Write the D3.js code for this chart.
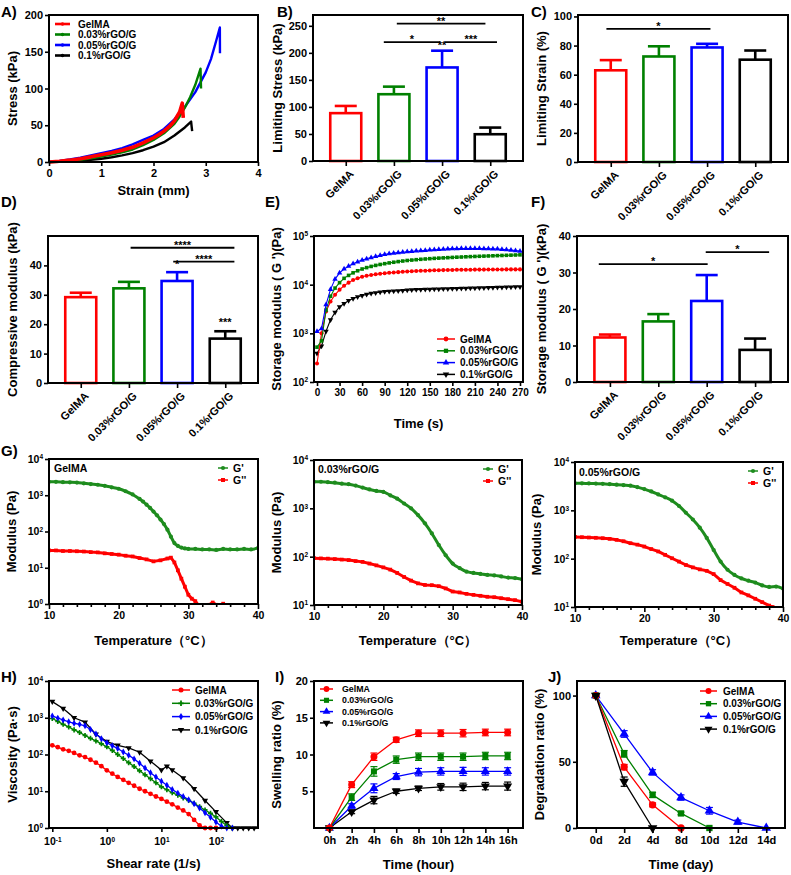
<!DOCTYPE html>
<html><head><meta charset="utf-8">
<script src="https://cdn.jsdelivr.net/npm/d3@7"></script>
<style>body{margin:0;background:#fff}</style>
</head><body>
<script>
// ---------------- DATA ----------------
const groups = ["GelMA","0.03%rGO/G","0.05%rGO/G","0.1%rGO/G"];
const groupColors = ["#ff0000","#008000","#0000ff","#000000"];

// A) stress-strain
const strainGel = [0,0.2,0.4,0.6,0.8,1.0,1.2,1.4,1.6,1.8,2.0,2.1,2.2,2.3,2.4,2.5,2.55,2.56,2.57];
const stressGel = [0,1,2.5,4.5,7,10,12.5,16,20,26,33,37,42,48,56,68,80,70,60];
const strainG03 = [0,0.2,0.4,0.6,0.8,1.0,1.2,1.4,1.6,1.8,2.0,2.2,2.4,2.5,2.6,2.7,2.8,2.9,2.905,2.91];
const stressG03 = [0,0.5,1.5,3,5,7.5,10,13,17,23,30,39,52,62,74,88,105,127,113,100];
const strainG05 = [0,0.2,0.4,0.6,0.8,1.0,1.2,1.4,1.6,1.8,2.0,2.2,2.4,2.6,2.8,3.0,3.1,3.2,3.27,3.271,3.272];
const stressG05 = [0,1.5,3.5,6,9,12,15,19,24,30,36,45,58,75,95,122,140,165,183,165,148];
const strainG01 = [0,0.2,0.4,0.6,0.8,1.0,1.2,1.4,1.6,1.8,2.0,2.2,2.4,2.6,2.72,2.73,2.74];
const stressG01 = [0,0.3,1,2,3,4.5,6.5,9,12,16,21,27,36,47,55,48,42];

// B) C) D) F) bar values
const limStress = [88.5,123.5,173,49.5];
const limStressErr = [13.3,14,31,12.3];
const limStrain = [63,72.5,78.7,70.3];
const limStrainErr = [7,7,2.5,6.3];
const compMod = [29.2,32.2,34.7,15.1];
const compModErr = [1.5,2.2,3,2.5];
const storMod = [12.2,16.6,22.2,8.8];
const storModErr = [0.8,2,7.1,3.1];

// E) time sweep
const timeE = [0,6,12,18,24,30,36,42,48,54,60,66,72,78,84,90,96,102,108,114,120,126,132,138,144,150,156,162,168,174,180,186,192,198,204,210,216,222,228,234,240,246,252,258,264,270];
const gtGel = [240,1000,2800,4500,6200,7900,9500,11000,12500,13500,14500,15200,15800,16300,16800,17200,17500,17800,18100,18400,18700,18900,19100,19300,19400,19600,19700,19800,19900,20000,20100,20200,20200,20300,20300,20400,20400,20400,20500,20500,20500,20500,20600,20600,20600,20600];
const gtG03 = [520,700,3000,5800,8500,11000,13500,15500,17500,19300,21000,22400,23700,24900,26000,27000,28000,28900,29800,30600,31400,32000,32600,33200,33700,34200,34700,35100,35500,35900,36300,36700,37000,37400,37700,38000,38300,38600,38900,39200,39500,39800,40100,40400,40700,41000];
const gtG05 = [1100,1250,3900,8000,13000,17500,21000,24000,27000,29500,32000,34000,36000,38000,40000,42000,43200,44400,45500,46500,47500,48300,49100,49900,50700,51500,52200,52900,53600,54300,55000,55200,55400,55500,55500,55500,55300,55100,54800,54400,54000,53200,52300,51300,50200,49000];
const gtG01 = [390,550,1100,1900,2700,3500,4100,4700,5200,5600,6000,6300,6600,6800,7000,7200,7300,7400,7500,7600,7700,7800,7900,7950,8000,8050,8100,8150,8200,8250,8300,8350,8400,8450,8500,8550,8600,8650,8700,8750,8800,8850,8900,8950,9000,9050];

// G) temperature sweeps
const tempG = [10,11,12,13,14,15,16,17,18,19,20,21,22,23,24,25,26,27,28,29,30,31,32,33,34,35,36,37,38,39,40];
const tempG1p = [10,11,12,13,14,15,16,17,18,19,20,21,22,23,23.5,24,24.5,25,25.5,26,26.5,27,27.5,28,28.5,29,29.5,30,31,32,33,34,35,36,37,38,39,40];
const g1Storage = [2340,2340,2300,2280,2240,2140,2040,1950,1820,1660,1510,1290,1050,790,670,550,450,355,280,214,160,112,72,48,40,36,34,33,33,32,32,31,33,32,32,33,32,35];
const tempG1pp = [10,11,12,13,14,15,16,17,18,19,20,21,22,23,24,25,26,27,27.5,28,28.5,29,29.5,30,30.5,31,31.5,32,32.5,33,33.5,34,34.5,35,35.5];
const g1Loss = [30,30,29,29,28.5,28,27,26.5,25,24,23,21.5,20.5,18.5,17,15,16,18,19,14,8.5,5,3,1.8,1.4,1.2,0.9,0.7,0.8,0.95,1.1,0.95,0.9,1.02,0.8];
const g2Storage = [3548,3548,3467,3388,3236,3162,2951,2692,2455,2291,2188,1862,1585,1259,1000,724,490,302,174,107,72,58,49,46,44,42,41,39,37,36,34];
const g2Loss = [93,92,91,89,87,85,81,78,72,66,60,54,46,38,32,28,26,25.7,24.5,22,19,18.2,17,16.2,15.5,14.8,14.5,13.8,13.2,12.6,11.7];
const g3Storage = [3631,3620,3600,3570,3530,3467,3400,3320,3236,3020,2754,2455,2138,1862,1585,1230,891,646,437,269,151,87,59,46,39,35,32,28,26,26.5,24];
const tempG3pp = [10,11,12,13,14,15,16,17,18,19,20,21,22,23,24,25,26,27,28,29,30,31,32,33,34,35,36,37,38,38.5];
const g3Loss = [282,278,274,270,265,257,245,229,209,195,178,158,141,120,102,87,74,66,60,56,48,36,30,25,20,17.4,14.8,12.6,10.7,10.0];

// H) viscosity
const shearH = [0.1,0.126,0.158,0.2,0.251,0.316,0.398,0.501,0.631,0.794,1,1.26,1.58,2,2.51,3.16,3.98,5.01,6.31,7.94,10,12.6,15.8,20,25.1,31.6,39.8,50.1,63.1,79.4,100,126,158,200];
const viscGel = [178,158,138,126,110,95,85,72,60,48,37,30,24.5,20.4,17,14.1,11.7,10,8.5,7.2,6.2,5.2,4.4,3.6,3.0,2.4,1.66,1.17,1,1,1];
const viscG03 = [955,794,661,562,468,398,331,275,234,195,162,129,100,78,60,47,36,28,22,17,13.2,11,9.1,7.8,6.6,5.6,4.7,3.8,3.1,2.5,2.0,1.5,1.15,1];
const viscG05 = [1120,977,871,776,708,661,603,479,363,269,209,174,145,117,95,76,58,43,32,24.5,18.6,14.5,11.2,8.9,7.2,5.9,4.6,3.5,2.6,1.95,1.45,1.12,1,1];
const shearH01 = [0.1,0.158,0.251,0.398,0.631,1,1.58,2.51,3.98,6.31,10,12.6,15.8,25.1,39.8,63.1,100,158,200,251,316,398,501];
const viscG01 = [2750,1780,1000,760,355,224,178,151,115,66,38,48,38,23,11.7,5.6,2.75,1.38,1,1,1,1,1];

// I) swelling
const timeI = ["0h","2h","4h","6h","8h","10h","12h","14h","16h"];
const swGel = [0,5.9,9.7,12.0,12.9,12.9,12.9,13.0,13.0];
const swGelErr = [0.2,0.4,0.5,0.35,0.45,0.45,0.5,0.45,0.45];
const swG03 = [0,4.2,7.7,9.3,9.7,9.7,9.7,9.8,9.8];
const swG03Err = [0.2,0.45,0.65,0.5,0.5,0.5,0.5,0.5,0.5];
const swG05 = [0,3.0,5.4,7.0,7.6,7.7,7.7,7.7,7.7];
const swG05Err = [0.2,0.3,0.6,0.4,0.5,0.5,0.55,0.5,0.5];
const swG01 = [0,2.2,3.8,5.0,5.4,5.6,5.6,5.7,5.7];
const swG01Err = [0.1,0.25,0.5,0.3,0.3,0.45,0.5,0.5,0.55];

// J) degradation
const dayJ = ["0d","2d","4d","8d","10d","12d","14d"];
const degGel = [100,46,17.5,0];
const degGelErr = [0.5,2,1.5,0];
const degG03 = [100,56,25,11,0];
const degG03Err = [0.5,2.5,2,1,0];
const degG05 = [100,71,42,23,13,4.5,0];
const degG05Err = [0.5,2.5,2,2,2.5,1.5,0];
const degG01 = [100,35,0];
const degG01Err = [0.5,3.5,0];

// ---------------- DRAWING ----------------
const FONT = "Arial, 'Liberation Sans', Helvetica, sans-serif";
const GREEN2 = "#1e8c1e";
const svg = d3.select("body").append("svg").attr("width",791).attr("height",875)
  .attr("font-family",FONT).attr("font-weight","bold");

const R = {
 A:{x0:49,x1:258,y0:15,y1:162},
 B:{x0:313,x1:523,y0:15,y1:161},
 C:{x0:578,x1:788,y0:15,y1:162},
 D:{x0:48,x1:258,y0:236,y1:383},
 E:{x0:314,x1:523,y0:236,y1:382},
 F:{x0:577,x1:788,y0:236,y1:382},
 G1:{x0:49,x1:258,y0:459,y1:604},
 G2:{x0:314,x1:522,y0:460,y1:605},
 G3:{x0:575,x1:783,y0:462,y1:607},
 H:{x0:49,x1:258,y0:681,y1:828},
 I:{x0:314,x1:523,y0:681,y1:828},
 J:{x0:577,x1:785,y0:681,y1:828}
};

let clipN = 0;
function clipFor(r){
  const id = "clip"+(clipN++);
  svg.append("clipPath").attr("id",id).append("rect")
    .attr("x",r.x0).attr("y",r.y0).attr("width",r.x1-r.x0).attr("height",r.y1-r.y0);
  return "url(#"+id+")";
}
function frame(r){
  svg.append("rect").attr("x",r.x0).attr("y",r.y0).attr("width",r.x1-r.x0).attr("height",r.y1-r.y0)
    .attr("fill","none").attr("stroke","#000").attr("stroke-width",2);
}
function styleAxis(g, fs){
  g.attr("font-family",FONT).attr("font-size",fs).attr("font-weight","bold");
  g.select(".domain").remove();
  g.selectAll(".tick line").attr("stroke","#000").attr("stroke-width",1.6);
  g.selectAll(".tick text").attr("fill","#000");
}
function powLabels(g){
  g.selectAll(".tick text").each(function(d){
    const e = Math.round(Math.log10(d));
    const t = d3.select(this); t.text("");
    t.append("tspan").text("10");
    t.append("tspan").attr("dy","-0.55em").attr("font-size","0.62em").text(e);
  });
}
function leftAxis(r, y, o){
  const a = d3.axisLeft(y).tickSizeOuter(0).tickSize(o.size||4).tickPadding(o.pad||2);
  if (o.values) a.tickValues(o.values);
  if (o.format) a.tickFormat(o.format);
  const g = svg.append("g").attr("transform",`translate(${r.x0},0)`).call(a);
  styleAxis(g, o.fs||11);
  if (o.pow) powLabels(g);
  return g;
}
function bottomAxis(r, x, o){
  const a = d3.axisBottom(x).tickSizeOuter(0).tickSize(o.size||4).tickPadding(o.pad||3);
  if (o.values) a.tickValues(o.values);
  if (o.format !== undefined) a.tickFormat(o.format);
  const g = svg.append("g").attr("transform",`translate(0,${r.y1})`).call(a);
  styleAxis(g, o.fs||11);
  if (o.pow) powLabels(g);
  return g;
}
function yTitle(text, x, r, fs){
  svg.append("text").attr("transform",`translate(${x},${(r.y0+r.y1)/2}) rotate(-90)`)
    .attr("text-anchor","middle").attr("font-size",fs||13).text(text);
}
function xTitle(text, r, y, fs){
  svg.append("text").attr("x",(r.x0+r.x1)/2).attr("y",y).attr("text-anchor","middle")
    .attr("font-size",fs||13).text(text);
}
function letter(t, x, y){
  svg.append("text").attr("x",x).attr("y",y).attr("font-size",15).text(t);
}
const SYM = {circle:d3.symbolCircle, square:d3.symbolSquare, triangle:d3.symbolTriangle,
  triangleDown:d3.symbolTriangle, cross:d3.symbolCross, diamond:d3.symbolDiamond};
function drawSym(p, x, y, type, size, color){
  p.append("path").attr("d", d3.symbol().type(SYM[type]).size(size)())
    .attr("transform", `translate(${x},${y})` + (type==="triangleDown" ? " rotate(180)" : ""))
    .attr("fill", color);
}
function plotSeries(p, xv, yv, xs, ys, color, o){
  const pts = xv.slice(0, yv.length).map((v,i)=>[xs(v), ys(yv[i])]);
  if (o.errs){
    o.errs.forEach((e,i)=>{
      if (!e) return;
      const x = pts[i][0], yt = ys(yv[i]+e), yb = ys(Math.max(yv[i]-e, 0));
      p.append("line").attr("x1",x).attr("x2",x).attr("y1",yt).attr("y2",yb).attr("stroke",color).attr("stroke-width",1.2);
      [yt,yb].forEach(yy=>p.append("line").attr("x1",x-o.cap).attr("x2",x+o.cap).attr("y1",yy).attr("y2",yy)
        .attr("stroke",color).attr("stroke-width",1.2));
    });
  }
  p.append("path").attr("d", d3.line().curve(o.curve || d3.curveLinear)(pts))
    .attr("fill","none").attr("stroke",color).attr("stroke-width",o.lw||1.5).attr("stroke-linejoin","round");
  if (o.sym) pts.forEach(pt=>drawSym(p, pt[0], pt[1], o.sym, o.size, color));
}
function legend(x0, y0, dy, len, gap, fs, items){
  items.forEach((it,i)=>{
    const y = y0 + i*dy;
    svg.append("line").attr("x1",x0).attr("x2",x0+len).attr("y1",y).attr("y2",y)
      .attr("stroke",it.color).attr("stroke-width",it.lw||1.5);
    if (it.sym) drawSym(svg, x0+len/2, y, it.sym, it.size||20, it.color);
    svg.append("text").attr("x",x0+len+gap).attr("y",y).attr("dy","0.36em").attr("font-size",fs).text(it.label);
  });
}

// ----- Bar panels -----
function barPanel(r, yMax, ticks, vals, errs, anns, title, titleX){
  const x = d3.scalePoint().domain(groups).range([r.x0, r.x1]).padding(0.68);
  const y = d3.scaleLinear().domain([0, yMax]).range([r.y1, r.y0]);
  const step = x.step();
  const bw = 31, cw = 22;
  const g = svg.append("g");
  groups.forEach((k,i)=>{
    const cx = x(k), c = groupColors[i];
    g.append("line").attr("x1",cx).attr("x2",cx).attr("y1",y(vals[i])).attr("y2",y(vals[i]+errs[i]))
      .attr("stroke",c).attr("stroke-width",2.6);
    g.append("line").attr("x1",cx-cw/2).attr("x2",cx+cw/2).attr("y1",y(vals[i]+errs[i])).attr("y2",y(vals[i]+errs[i]))
      .attr("stroke",c).attr("stroke-width",2.6);
    g.append("rect").attr("x",cx-bw/2).attr("y",y(vals[i])).attr("width",bw).attr("height",y(0)-y(vals[i]))
      .attr("fill","#fff").attr("stroke",c).attr("stroke-width",2.6);
  });
  frame(r);
  leftAxis(r, y, {values:ticks, fs:11});
  bottomAxis(r, x, {format:"", size:5});
  groups.forEach(k=>{
    svg.append("text").attr("transform",`translate(${x(k)+6},${r.y1+11}) rotate(-45)`)
      .attr("text-anchor","end").attr("dy","0.35em").attr("font-size",11).text(k);
  });
  const x0 = x(groups[0]);
  anns.forEach(a=>{
    if (a.b !== undefined){
      svg.append("line").attr("x1",x0+a.a*step).attr("x2",x0+a.b*step).attr("y1",y(a.y)).attr("y2",y(a.y))
        .attr("stroke","#000").attr("stroke-width",1.8);
      svg.append("text").attr("x",x0+(a.a+a.b)/2*step).attr("y",y(a.y)+1).attr("text-anchor","middle")
        .attr("font-size",11).text(a.t);
    } else {
      svg.append("text").attr("x",x0+a.a*step).attr("y",y(a.y)).attr("text-anchor","middle")
        .attr("font-size",11).text(a.t);
    }
  });
  yTitle(title, titleX, r);
}

// ===== A =====
(function(){
  const r = R.A;
  const x = d3.scaleLinear().domain([0,4]).range([r.x0,r.x1]);
  const y = d3.scaleLinear().domain([0,200]).range([r.y1,r.y0]);
  const p = svg.append("g");
  plotSeries(p, strainG01, stressG01, x, y, groupColors[3], {lw:2.4});
  plotSeries(p, strainG05, stressG05, x, y, groupColors[2], {lw:2.4});
  plotSeries(p, strainG03, stressG03, x, y, groupColors[1], {lw:2.4});
  plotSeries(p, strainGel, stressGel, x, y, groupColors[0], {lw:3.6});
  frame(r);
  leftAxis(r, y, {values:[0,50,100,150,200], fs:11});
  bottomAxis(r, x, {values:[0,1,2,3,4], format:d3.format("d"), fs:11});
  legend(55, 24, 10.5, 15, 8, 10, groups.map((k,i)=>({label:k, color:groupColors[i], lw:2.6, sym:"circle", size:10})));
  xTitle("Strain (mm)", r, 195);
  yTitle("Stress (kPa)", 17, r);
  letter("A)", 1, 17);
})();

// ===== B, C, D, F =====
barPanel(R.B, 270, [0,50,100,150,200,250], limStress, limStressErr, [
  {a:1.06,b:2.9,y:254,t:"**"},
  {a:0.79,b:1.96,y:220,t:"*"},
  {a:2.06,b:3.14,y:220,t:"***"},
  {a:2,y:208,t:"**"}
], "Limiting Stress (kPa)", 282);
letter("B)", 277, 17);

barPanel(R.C, 101, [0,20,40,60,80,100], limStrain, limStrainErr, [
  {a:-0.09,b:2.07,y:91.5,t:"*"}
], "Limiting Strain (%)", 546);
letter("C)", 531, 17);

barPanel(R.D, 50, [0,10,20,30,40], compMod, compModErr, [
  {a:1.035,b:3.19,y:46,t:"****"},
  {a:1.92,b:3.19,y:41.3,t:"****"},
  {a:2,y:39,t:"*"},
  {a:3,y:19.5,t:"***"}
], "Compressive modulus (kPa)", 17);
letter("D)", 1, 207);

barPanel(R.F, 40, [0,10,20,30,40], storMod, storModErr, [
  {a:-0.23,b:2.02,y:32.3,t:"*"},
  {a:1.98,b:3.29,y:35.6,t:"*"}
], "Storage modulus ( G ')(kPa)", 546);
letter("F)", 531, 207);

// ===== E =====
(function(){
  const r = R.E;
  const x = d3.scaleLinear().domain([-4,274]).range([r.x0,r.x1]);
  const y = d3.scaleLog().domain([100,100000]).range([r.y1,r.y0]);
  const p = svg.append("g").attr("clip-path", clipFor(r));
  const sets = [[gtG01,"triangleDown",3],[gtGel,"circle",0],[gtG03,"square",1],[gtG05,"triangle",2]];
  sets.forEach(s=>plotSeries(p, timeE, s[0], x, y, groupColors[s[2]], {lw:1.1, sym:s[1], size:13}));
  frame(r);
  leftAxis(r, y, {values:[1e2,1e3,1e4,1e5], fs:10.5, pow:true});
  bottomAxis(r, x, {values:[0,30,60,90,120,150,180,210,240,270], fs:10});
  legend(437, 339, 11.8, 18, 5, 10, [
    {label:groups[0], color:groupColors[0], sym:"circle", size:18},
    {label:groups[1], color:groupColors[1], sym:"square", size:18},
    {label:groups[2], color:groupColors[2], sym:"triangle", size:18},
    {label:groups[3], color:groupColors[3], sym:"triangleDown", size:18}
  ]);
  xTitle("Time (s)", r, 428);
  yTitle("Storage modulus ( G ')(Pa)", 281, r);
  letter("E)", 265, 207);
})();

// ===== G =====
function gPanel(r, yDom, yTicks, tp, sp, tl, sl, label, labelPos, legPos, titleX){
  const x = d3.scaleLinear().domain([10,40]).range([r.x0,r.x1]);
  const y = d3.scaleLog().domain(yDom).range([r.y1,r.y0]);
  const p = svg.append("g").attr("clip-path", clipFor(r));
  plotSeries(p, tp, sp, x, y, GREEN2, {lw:3, sym:"circle", size:14, curve:d3.curveMonotoneX});
  plotSeries(p, tl, sl, x, y, "#ff0000", {lw:3, sym:"square", size:14});
  frame(r);
  leftAxis(r, y, {values:yTicks, fs:10.5, pow:true});
  bottomAxis(r, x, {values:[12,14,16,18,22,24,26,28,32,34,36,38], format:"", size:3});
  bottomAxis(r, x, {values:[10,20,30,40], fs:10.5, size:5});
  svg.append("text").attr("x",labelPos[0]).attr("y",labelPos[1]).attr("font-size",10.5).text(label);
  legend(legPos[0], legPos[1], 12, 10, 5, 10.5, [
    {label:"G'", color:GREEN2, sym:"circle", size:14},
    {label:"G''", color:"#ff0000", sym:"square", size:16}
  ]);
  xTitle("Temperature（°C）", r, 645);
  yTitle("Modulus (Pa)", titleX, r);
}
gPanel(R.G1, [1,10000], [1,10,100,1000,10000], tempG1p, g1Storage, tempG1pp, g1Loss, "GelMA", [54,472], [218,468], 16);
gPanel(R.G2, [10,10000], [10,100,1000,10000], tempG, g2Storage, tempG, g2Loss, "0.03%rGO/G", [318,473], [483,469], 281);
gPanel(R.G3, [10,10000], [10,100,1000,10000], tempG, g3Storage, tempG3pp, g3Loss, "0.05%rGO/G", [579,476], [748,471], 541);
letter("G)", 1, 456);

// ===== H =====
(function(){
  const r = R.H;
  const x = d3.scaleLog().domain([0.087,590]).range([r.x0,r.x1]);
  const y = d3.scaleLog().domain([1,10000]).range([r.y1,r.y0]);
  const p = svg.append("g");
  plotSeries(p, shearH01, viscG01, x, y, groupColors[3], {lw:1.3, sym:"triangleDown", size:16});
  plotSeries(p, shearH, viscG03, x, y, groupColors[1], {lw:1.3, sym:"cross", size:14});
  plotSeries(p, shearH, viscG05, x, y, groupColors[2], {lw:1.3, sym:"diamond", size:14});
  plotSeries(p, shearH, viscGel, x, y, groupColors[0], {lw:1.3, sym:"circle", size:18});
  frame(r);
  leftAxis(r, y, {values:[1,10,100,1000,10000], fs:10.5, pow:true});
  bottomAxis(r, x, {values:[0.1,1,10,100], fs:10.5, pow:true, pad:6});
  legend(172, 690, 13.3, 18, 5, 10, [
    {label:groups[0], color:groupColors[0], sym:"circle", size:20},
    {label:groups[1], color:groupColors[1], sym:"cross", size:16},
    {label:groups[2], color:groupColors[2], sym:"diamond", size:16},
    {label:groups[3], color:groupColors[3], sym:"triangleDown", size:18}
  ]);
  xTitle("Shear rate (1/s)", r, 868);
  yTitle("Viscosity (Pa·s)", 17, r);
  letter("H)", 1, 682);
})();

// ===== I =====
(function(){
  const r = R.I;
  const x = d3.scalePoint().domain(timeI).range([r.x0,r.x1]).padding(0.69);
  const y = d3.scaleLinear().domain([0,20]).range([r.y1,r.y0]);
  const p = svg.append("g");
  plotSeries(p, timeI, swG01, x, y, groupColors[3], {lw:1.3, sym:"triangleDown", size:36, errs:swG01Err, cap:3.5});
  plotSeries(p, timeI, swG05, x, y, groupColors[2], {lw:1.3, sym:"triangle", size:36, errs:swG05Err, cap:3.5});
  plotSeries(p, timeI, swG03, x, y, groupColors[1], {lw:1.3, sym:"square", size:36, errs:swG03Err, cap:3.5});
  plotSeries(p, timeI, swGel, x, y, groupColors[0], {lw:1.3, sym:"circle", size:38, errs:swGelErr, cap:3.5});
  frame(r);
  leftAxis(r, y, {values:[5,10,15,20], fs:11});
  bottomAxis(r, x, {fs:11, size:5});
  legend(320, 689, 11.3, 13, 9, 8.8, [
    {label:groups[0], color:groupColors[0], sym:"circle", size:26},
    {label:groups[1], color:groupColors[1], sym:"square", size:26},
    {label:groups[2], color:groupColors[2], sym:"triangle", size:26},
    {label:groups[3], color:groupColors[3], sym:"triangleDown", size:26}
  ]);
  xTitle("Time (hour)", r, 869);
  yTitle("Swelling ratio (%)", 281, r);
  letter("I)", 275, 682);
})();

// ===== J =====
(function(){
  const r = R.J;
  const x = d3.scalePoint().domain(dayJ).range([r.x0,r.x1]).padding(0.66);
  const y = d3.scaleLinear().domain([0,111]).range([r.y1,r.y0]);
  const p = svg.append("g");
  plotSeries(p, dayJ, degG05, x, y, groupColors[2], {lw:1.3, sym:"triangle", size:40, errs:degG05Err, cap:3.5});
  plotSeries(p, dayJ, degG03, x, y, groupColors[1], {lw:1.3, sym:"square", size:40, errs:degG03Err, cap:3.5});
  plotSeries(p, dayJ, degGel, x, y, groupColors[0], {lw:1.3, sym:"circle", size:42, errs:degGelErr, cap:3.5});
  plotSeries(p, dayJ, degG01, x, y, groupColors[3], {lw:1.3, sym:"triangleDown", size:40, errs:degG01Err, cap:3.5});
  frame(r);
  leftAxis(r, y, {values:[0,50,100], fs:11});
  bottomAxis(r, x, {fs:11, size:5});
  legend(700, 691, 12.7, 17, 6, 10, [
    {label:groups[0], color:groupColors[0], sym:"circle", size:28},
    {label:groups[1], color:groupColors[1], sym:"square", size:28},
    {label:groups[2], color:groupColors[2], sym:"triangle", size:28},
    {label:groups[3], color:groupColors[3], sym:"triangleDown", size:28}
  ]);
  xTitle("Time (day)", r, 869);
  yTitle("Degradation ratio (%)", 544, r);
  letter("J)", 548, 682);
})();
</script>
</body></html>
